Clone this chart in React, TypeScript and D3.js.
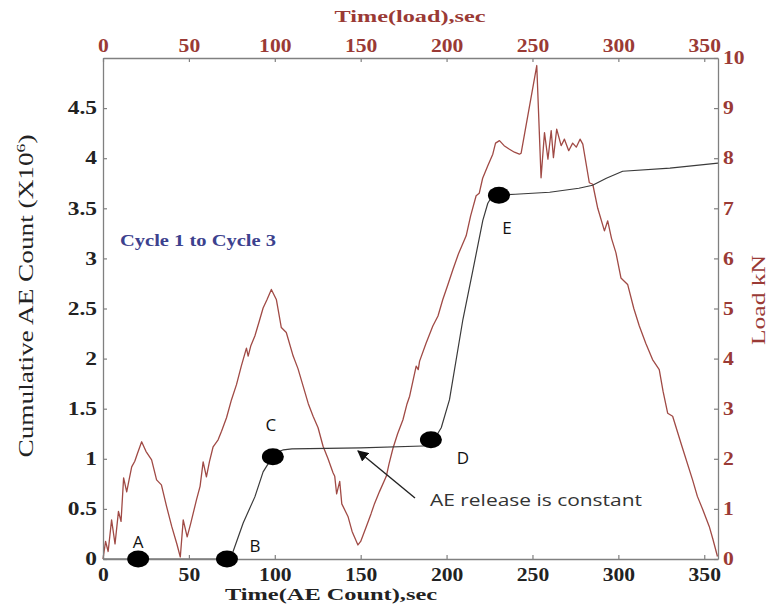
import React, { useEffect, useRef } from 'react';
import * as d3 from 'd3';

// Load record (kN) against test time (s)
const loadTime = [
  0, 1.5, 3, 5, 7, 9, 10.5, 12, 13.8, 15, 16.7, 18.5, 20, 22.5, 25, 28.3, 31.2, 34, 37, 40, 43, 45,
  46.7, 49, 51, 54.4, 56.5, 58.3, 60.2, 62, 64.1, 67, 69, 71.9, 74.8, 77.7, 80.5, 83.5, 84.5, 86, 88.4,
  91, 93.2, 95.5, 98, 100.9, 103.8, 106.7, 110.7, 113.5, 116.5, 119.5, 122.3, 125.2, 128.1, 131, 133.9,
  134.9, 136, 137.8, 139, 142.6, 145, 148.4, 150, 153.3, 156, 158.1, 161, 164.9, 166.5, 168.8, 171.5,
  174.6, 177, 178.5, 180.4, 182.3, 183.5, 184.3, 188, 192, 195, 197.8, 200.5, 203.7, 207, 211.4, 214,
  217.2, 219, 221, 224, 226.9, 228.5, 230.8, 233.5, 236.6, 239.5, 242.4, 243.4, 252.5, 255, 257, 259,
  260.9, 262.2, 264.1, 266.7, 268.6, 271.1, 273.4, 275.5, 277.7, 279.3, 283.1, 285.1, 288, 291.9, 293.8,
  296, 298.6, 301.5, 305.4, 309, 312.2, 316, 319.9, 323.8, 326, 328.7, 331.6, 337, 343.2, 346, 349,
  352.9, 355, 357.7,
];
const loadKN = [
  0, 0.35, 0.15, 0.78, 0.3, 0.95, 0.75, 1.62, 1.34, 1.55, 1.84, 1.95, 2.1, 2.34, 2.15, 1.98, 1.58, 1.48,
  1.05, 0.65, 0.3, 0.04, 0.78, 0.44, 0.7, 1.18, 1.45, 1.94, 1.64, 1.95, 2.24, 2.38, 2.55, 2.82, 3.18,
  3.48, 3.85, 4.21, 4.05, 4.25, 4.45, 4.75, 5.01, 5.18, 5.38, 5.18, 4.62, 4.52, 4.05, 3.8, 3.45, 3.1,
  2.85, 2.62, 2.25, 2.0, 1.72, 1.65, 1.3, 1.55, 1.1, 0.85, 0.55, 0.28, 0.35, 0.65, 0.9, 1.11, 1.35,
  1.65, 1.9, 2.21, 2.5, 2.78, 3.1, 3.25, 3.55, 3.85, 3.78, 3.95, 4.3, 4.65, 4.85, 5.18, 5.45, 5.78, 6.1,
  6.45, 6.85, 7.25, 7.3, 7.6, 7.85, 8.08, 8.3, 8.35, 8.25, 8.18, 8.12, 8.08, 8.1, 9.85, 7.61, 8.51,
  7.98, 8.55, 8.01, 8.58, 8.25, 8.38, 8.15, 8.3, 8.22, 8.38, 8.28, 7.51, 7.48, 7.0, 6.55, 6.75, 6.4,
  6.11, 5.61, 5.48, 5.0, 4.65, 4.3, 3.98, 3.78, 3.35, 2.91, 2.85, 2.25, 1.58, 1.25, 1.0, 0.65, 0.4, 0.05,
];

// Cumulative AE count (x10^6) against time (s)
const aeTime = [
  0, 72.5, 74.8, 81.6, 88.4, 93.2, 96.1, 98.9, 101, 105, 110, 150, 190.9, 193, 196.9, 201.7, 209.5,
  215.3, 221.1, 224, 226.5, 230.5, 240, 260, 277, 285, 293, 302.5, 330, 358,
];
const aeCount = [
  0, 0, 0.03, 0.36, 0.62, 0.87, 0.95, 1.02, 1.06, 1.09, 1.1, 1.11, 1.13, 1.2, 1.31, 1.59, 2.39, 2.88,
  3.38, 3.55, 3.62, 3.63, 3.64, 3.66, 3.7, 3.73, 3.8, 3.87, 3.9, 3.95,
];

// Marked stages of the AE curve
const stageNames = ['A', 'B', 'C', 'D', 'E'];
const stageTime = [20.5, 72.2, 98.9, 190.9, 230.5];
const stageCount = [0, 0, 1.02, 1.19, 3.63];

const timeTicks = [0, 50, 100, 150, 200, 250, 300, 350];
const aeTicks = [0, 0.5, 1, 1.5, 2, 2.5, 3, 3.5, 4, 4.5];
const loadTicks = [0, 1, 2, 3, 4, 5, 6, 7, 8, 9, 10];

const W = 771;
const H = 605;
const M = { left: 103, right: 718, top: 58, bottom: 559 };

const LOAD_COLOR = '#a04a45';
const AXIS_COLOR = '#808080';
const TICK_RED = '#9a3a35';
const SERIF = '"Liberation Serif", "Times New Roman", serif';
const SANS = '"Open Sans", "Liberation Sans", Arial, sans-serif';

export default function App() {
  const bottomRef = useRef<SVGGElement>(null);
  const topRef = useRef<SVGGElement>(null);
  const leftRef = useRef<SVGGElement>(null);
  const rightRef = useRef<SVGGElement>(null);

  const x = d3.scaleLinear().domain([0, 358]).range([M.left, M.right]);
  const yAE = d3.scaleLinear().domain([0, 5]).range([M.bottom, M.top]);
  const yLoad = d3.scaleLinear().domain([0, 10]).range([M.bottom, M.top]);

  const loadPath = d3
    .line<number>()
    .x((_, i) => x(loadTime[i]))
    .y((d) => yLoad(d))(loadKN) as string;
  const aePath = d3
    .line<number>()
    .x((_, i) => x(aeTime[i]))
    .y((d) => yAE(d))(aeCount) as string;

  useEffect(() => {
    const style = (
      g: d3.Selection<SVGGElement, unknown, null, undefined>,
      color: string,
      stretch: number,
    ) => {
      g.select('.domain').attr('stroke', AXIS_COLOR).attr('stroke-width', 1.3);
      g.selectAll('.tick line').attr('stroke', AXIS_COLOR).attr('stroke-width', 1.2);
      g.selectAll<SVGTextElement, unknown>('.tick text')
        .attr('fill', color)
        .attr('font-family', SERIF)
        .attr('font-weight', 'bold')
        .attr('font-size', 18)
        .each(function () {
          // widen the bold numerals a little
          const len = this.getComputedTextLength();
          d3.select(this).attr('textLength', len * stretch).attr('lengthAdjust', 'spacingAndGlyphs');
        });
    };
    const fmt = (d: d3.NumberValue) => String(d);
    const b = d3.select(bottomRef.current!);
    b.call(d3.axisBottom(x).tickValues(timeTicks).tickFormat(fmt).tickSizeInner(-4).tickSizeOuter(0).tickPadding(9));
    style(b, '#222', 1.2);
    const t = d3.select(topRef.current!);
    t.call(d3.axisTop(x).tickValues(timeTicks).tickFormat(fmt).tickSizeInner(-4).tickSizeOuter(0).tickPadding(6));
    style(t, TICK_RED, 1.2);
    const l = d3.select(leftRef.current!);
    l.call(d3.axisLeft(yAE).tickValues(aeTicks).tickFormat(fmt).tickSizeInner(-4).tickSizeOuter(0).tickPadding(6));
    style(l, '#222', 1.3);
    const r = d3.select(rightRef.current!);
    r.call(d3.axisRight(yLoad).tickValues(loadTicks).tickFormat(fmt).tickSizeInner(-4).tickSizeOuter(0).tickPadding(5));
    style(r, TICK_RED, 1.2);
  }, []);

  const labelOffset: Record<string, [number, number]> = {
    A: [0, -18],
    B: [28, -14],
    C: [-2, -32],
    D: [32, 18],
    E: [8, 32],
  };

  return (
    <svg
      width={W}
      height={H}
      style={{ position: 'absolute', left: 0, top: 0, background: '#fff' }}
    >
      <rect x={0} y={0} width={W} height={H} fill="#fff" />

      <path d={loadPath} fill="none" stroke={LOAD_COLOR} strokeWidth={1.3} strokeLinejoin="round" />
      <path d={aePath} fill="none" stroke="#3a3a3a" strokeWidth={1.2} strokeLinejoin="round" />

      <g ref={bottomRef} transform={`translate(0,${M.bottom})`} />
      <g ref={topRef} transform={`translate(0,${M.top})`} />
      <g ref={leftRef} transform={`translate(${M.left},0)`} />
      <g ref={rightRef} transform={`translate(${M.right},0)`} />

      {stageNames.map((name, i) => {
        const cx = x(stageTime[i]);
        const cy = yAE(stageCount[i]);
        const [dx, dy] = labelOffset[name];
        return (
          <g key={name}>
            <ellipse cx={cx} cy={cy} rx={11} ry={8.5} fill="#000" />
            <text
              x={cx + dx}
              y={cy + dy}
              textAnchor="middle"
              dominantBaseline="central"
              fontFamily={SANS}
              fontSize={17}
              fill="#111"
            >
              {name}
            </text>
          </g>
        );
      })}

      {/* annotation for the flat part of the AE curve */}
      <defs>
        <marker id="arrowHead" viewBox="0 0 10 10" refX={9} refY={5} markerWidth={11} markerHeight={11} markerUnits="userSpaceOnUse" orient="auto">
          <path d="M0,0 L10,5 L0,10 z" fill="#111" />
        </marker>
      </defs>
      <line x1={415} y1={498} x2={358} y2={451} stroke="#222" strokeWidth={1.4} markerEnd="url(#arrowHead)" />
      <text x={430} y={506} fontFamily={SANS} fontSize={17} fill="#333" textLength={212} lengthAdjust="spacingAndGlyphs">
        AE release is constant
      </text>

      <text x={120} y={246} fontFamily={SERIF} fontWeight="bold" fontSize={16} fill="#3c418e" textLength={156} lengthAdjust="spacingAndGlyphs">
        Cycle 1 to Cycle 3
      </text>

      {/* axis titles */}
      <text x={410} y={22} textAnchor="middle" fontFamily={SERIF} fontWeight="bold" fontSize={17} fill={TICK_RED} textLength={151} lengthAdjust="spacingAndGlyphs">
        Time(load),sec
      </text>
      <text x={331} y={600} textAnchor="middle" fontFamily={SERIF} fontWeight="bold" fontSize={17} fill="#222" textLength={212} lengthAdjust="spacingAndGlyphs">
        Time(AE Count),sec
      </text>
      <text transform="translate(33,296) rotate(-90)" textAnchor="middle" fontFamily={SERIF} fontSize={20} fill="#222" textLength={323} lengthAdjust="spacingAndGlyphs">
        Cumulative  AE Count  (X10<tspan dy={-8} fontSize={13}>6</tspan><tspan dy={8}>)</tspan>
      </text>
      <text transform="translate(765,300) rotate(-90)" textAnchor="middle" fontFamily={SERIF} fontSize={19} fill={TICK_RED} textLength={90} lengthAdjust="spacingAndGlyphs">
        Load kN
      </text>
    </svg>
  );
}
